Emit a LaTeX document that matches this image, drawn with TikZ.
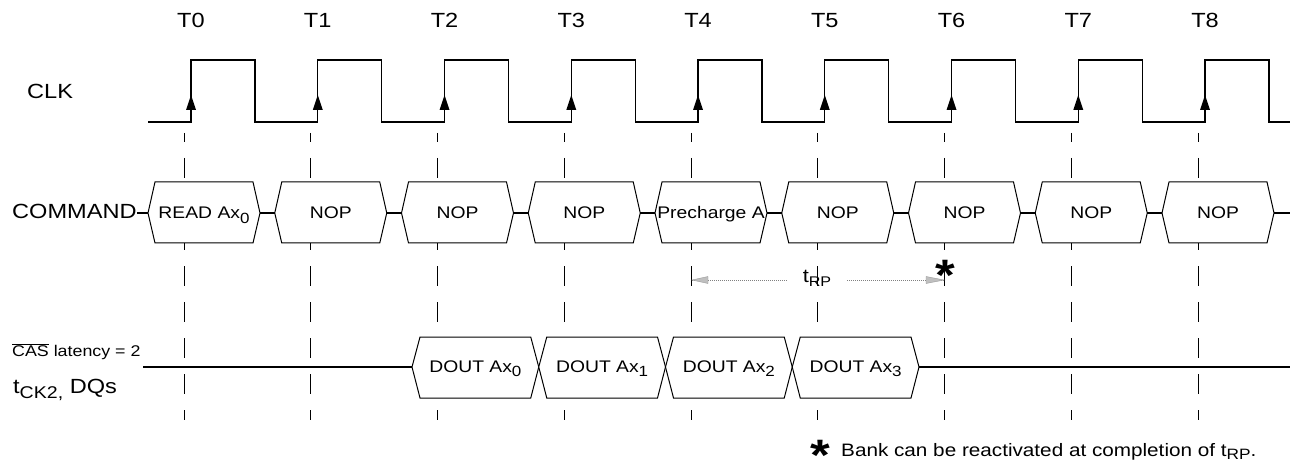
\documentclass[tikz,border=0pt]{standalone}
\usepackage{fontspec}
\setmainfont{Liberation Sans}[FakeStretch=1.15]
\usepackage{graphicx}
\usetikzlibrary{arrows.meta}
\newcommand\fsz[1]{\fontsize{#1}{#1}\selectfont}
\newcommand\lowsub[1]{\raisebox{-0.28em}{\scalebox{0.88}{#1}}}
\begin{document}
\begin{tikzpicture}[x=1pt,y=-1pt]
\useasboundingbox (0,0) rectangle (1292,462);
\tikzset{
  wave/.style={line width=1.1pt, line join=miter},
  gridline/.style={line width=1pt, dash pattern=on 20pt off 16pt, dash phase=11pt},
  busbox/.style={line width=1pt, fill=white, line join=miter},
  lbl/.style={inner sep=0pt, font=\fsz{20.5}},
  cellt/.style={inner sep=0pt, font=\fsz{16.8}},
  smallt/.style={inner sep=0pt, font=\fsz{15.5}},
  timing/.style={gray, line width=0.8pt, dash pattern=on 1pt off 1pt},
  tiphead/.style={fill=gray!50, draw=gray!80, line width=0.4pt},
  starmark/.style={inner sep=0pt, font=\fsz{44}\bfseries},
}
% vertical dashed reference lines
\foreach \k in {0,...,8}{
  \pgfmathsetmacro\xx{184+126.75*\k}
  \coordinate (gt\k) at (\xx,133);
  \coordinate (gb\k) at (\xx,420);
  \draw[gridline] (gt\k) -- (gb\k);
}
% clock labels and rising-edge marks
\foreach \k in {0,...,8}{
  \pgfmathsetmacro\rr{191+126.75*\k}
  \node[lbl, anchor=base] (T\k) at (\rr,28) {T\k};
  \fill (\rr-5,110) -- (\rr,95) -- (\rr+5,110) -- cycle;
}
% clock waveform
\draw[wave] (148,122) -- (191,122) -- (191,60) -- (255,60) -- (255,122) -- (317.75,122) -- (317.75,60) -- (381.75,60) -- (381.75,122) -- (444.5,122) -- (444.5,60) -- (508.5,60) -- (508.5,122) -- (571.25,122) -- (571.25,60) -- (635.25,60) -- (635.25,122) -- (698,122) -- (698,60) -- (762,60) -- (762,122) -- (824.75,122) -- (824.75,60) -- (888.75,60) -- (888.75,122) -- (951.5,122) -- (951.5,60) -- (1015.5,60) -- (1015.5,122) -- (1078.25,122) -- (1078.25,60) -- (1142.25,60) -- (1142.25,122) -- (1205,122) -- (1205,60) -- (1269,60) -- (1269,122) -- (1290,122);
% signal names
\node[lbl, anchor=base west] (clk) at (27,99) {CLK};
\node[lbl, anchor=base west] (cmd) at (12,219) {COMMAND};
\node[smallt, anchor=base west] (cas) at (12,356) {$\overline{\hbox{CAS}}$ latency = 2};
\node[lbl, anchor=base west] (dqs) at (13,393) {t\raisebox{-5pt}{\fsz{17}CK2,} DQs};
% command bus
\foreach \k/\t in {0/{READ Ax\lowsub{0}},1/NOP,2/NOP,3/NOP,4/{Precharge A},5/NOP,6/NOP,7/NOP,8/NOP}{
  \pgfmathsetmacro\L{148+126.75*\k}
  \pgfmathsetmacro\R{\L+112}
  \draw[busbox] (\L,213) -- (\L+7,182) -- (\R-7,182) -- (\R,213) -- (\R-7,243) -- (\L+7,243) -- cycle;
  \node[cellt, anchor=base] (c\k) at ({(\L+\R)/2},218.5) {\t};
  \coordinate (cw\k) at (\L,213);
  \coordinate (ce\k) at (\R,213);
}
\coordinate (cstart) at (137,213);
\coordinate (cend) at (1290,213);
\draw[wave] (cstart) -- (cw0);
\foreach \a/\b in {0/1,1/2,2/3,3/4,4/5,5/6,6/7,7/8}{\draw[wave] (ce\a) -- (cw\b);}
\draw[wave] (ce8) -- (cend);
% data bus
\foreach \k in {0,1,2,3}{
  \pgfmathsetmacro\L{412+126.75*\k}
  \pgfmathsetmacro\R{\L+126.75}
  \draw[busbox] (\L,367) -- (\L+8,337) -- (\R-8,337) -- (\R,367) -- (\R-8,398) -- (\L+8,398) -- cycle;
  \node[cellt, anchor=base] (d\k) at ({(\L+\R)/2},372) {DOUT Ax\lowsub{\k}};
  \coordinate (dw\k) at (\L,367);
  \coordinate (de\k) at (\R,367);
}
\coordinate (dstart) at (143,367);
\coordinate (dend) at (1290,367);
\draw[wave] (dstart) -- (dw0);
\draw[wave] (de3) -- (dend);
% tRP
\node[inner sep=0pt, font=\fsz{19}, anchor=base] (trp) at (817,283) {t\raisebox{-4pt}{\fsz{14}RP}};
\coordinate (trpL) at (692,280);
\coordinate (trpR) at (944,280);
\coordinate (gapL) at (787,280);
\coordinate (gapR) at (847,280);
\draw[timing] (trpL) -- (gapL);
\draw[timing] (gapR) -- (trpR);
\draw[tiphead] (trpL) -- ++(16,-3.5) -- ++(0,7) -- cycle;
\draw[tiphead] (trpR) -- ++(-18,-3.5) -- ++(0,7) -- cycle;
\node[starmark, anchor=base] (star1) at (945,290) {*};
% footnote
\node[starmark, anchor=base] (star2) at (820,470) {*};
\node[inner sep=0pt, font=\fsz{18}, anchor=base west] (note) at (841,456) {Bank can be reactivated at completion of t\raisebox{-3pt}{\fsz{15}RP}.};
\end{tikzpicture}
\end{document}
